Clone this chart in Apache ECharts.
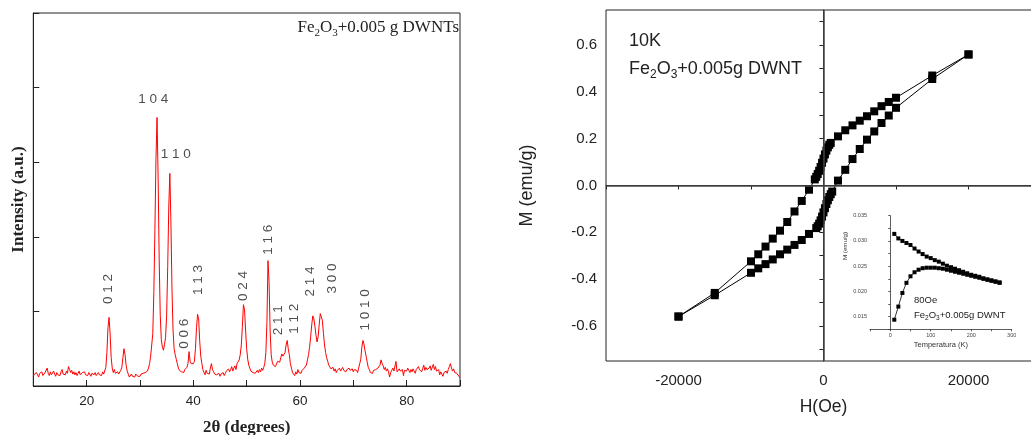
<!DOCTYPE html>
<html><head><meta charset="utf-8">
<script src="https://cdn.jsdelivr.net/npm/echarts@6/dist/echarts.min.js"></script>
<style>html,body{margin:0;padding:0;background:#fff}#c{width:1031px;height:435px}</style>
</head><body><div id="c"></div>
<script>
// ---------- XRD (left panel) ----------
const xrdStart = 10, xrdStep = 0.2;   // 2θ sampling grid of the measurement
const xrdIntensity = [
 0.13,0.16,0.14,0.18,0.15,0.12,0.17,0.16,0.19,0.14,
 0.15,0.18,0.16,0.24,0.17,0.14,0.19,0.15,0.17,0.20,
 0.16,0.13,0.18,0.15,0.17,0.14,0.19,0.22,0.16,0.18,
 0.15,0.20,0.17,0.26,0.22,0.18,0.21,0.16,0.19,0.15,
 0.18,0.14,0.17,0.20,0.15,0.13,0.18,0.16,0.19,0.15,
 0.17,0.14,0.18,0.16,0.13,0.17,0.19,0.15,0.18,0.14,
 0.16,0.18,0.15,0.17,0.14,0.19,0.16,0.18,0.25,0.45,
 0.78,0.92,0.70,0.38,0.24,0.18,0.22,0.17,0.15,0.19,
 0.16,0.18,0.21,0.25,0.38,0.50,0.42,0.28,0.20,0.16,
 0.12,0.14,0.16,0.13,0.15,0.12,0.16,0.14,0.13,0.15,
 0.13,0.16,0.14,0.17,0.15,0.18,0.16,0.20,0.24,0.30,
 0.40,0.55,0.70,1.25,2.10,3.05,3.60,2.80,1.70,0.95,
 0.62,0.52,0.48,0.56,0.65,0.95,1.60,2.40,2.85,2.20,
 1.30,0.75,0.50,0.42,0.36,0.30,0.24,0.21,0.23,0.19,
 0.21,0.18,0.22,0.20,0.25,0.30,0.46,0.33,0.30,0.28,
 0.30,0.33,0.50,0.78,0.96,0.90,0.60,0.40,0.30,0.22,
 0.18,0.15,0.21,0.17,0.19,0.16,0.24,0.30,0.22,0.19,
 0.16,0.18,0.15,0.14,0.17,0.13,0.16,0.15,0.18,0.14,
 0.17,0.20,0.18,0.23,0.19,0.22,0.26,0.20,0.24,0.27,
 0.22,0.30,0.28,0.35,0.42,0.55,0.80,1.09,1.02,0.75,
 0.50,0.36,0.28,0.24,0.20,0.22,0.18,0.20,0.17,0.19,
 0.21,0.18,0.22,0.19,0.24,0.21,0.25,0.30,0.45,0.85,
 1.68,1.40,0.75,0.42,0.32,0.28,0.27,0.26,0.28,0.33,
 0.35,0.32,0.38,0.43,0.40,0.38,0.45,0.55,0.61,0.50,
 0.42,0.30,0.24,0.18,0.20,0.14,0.19,0.16,0.22,0.18,
 0.20,0.17,0.21,0.19,0.24,0.22,0.28,0.35,0.42,0.52,
 0.66,0.82,0.94,0.90,0.80,0.68,0.59,0.66,0.82,0.97,
 0.99,0.88,0.70,0.55,0.45,0.38,0.33,0.28,0.26,0.23,
 0.22,0.25,0.20,0.23,0.18,0.21,0.19,0.24,0.20,0.22,
 0.25,0.21,0.23,0.19,0.22,0.20,0.24,0.21,0.20,0.23,
 0.19,0.22,0.20,0.21,0.18,0.24,0.30,0.36,0.52,0.61,
 0.56,0.47,0.40,0.32,0.25,0.22,0.18,0.20,0.17,0.21,
 0.19,0.22,0.20,0.24,0.22,0.28,0.35,0.30,0.27,0.22,
 0.25,0.20,0.23,0.19,0.12,0.18,0.21,0.24,0.20,0.22,
 0.33,0.19,0.17,0.23,0.20,0.18,0.22,0.14,0.21,0.23,
 0.20,0.24,0.21,0.18,0.22,0.19,0.23,0.20,0.17,0.22,
 0.20,0.26,0.22,0.24,0.19,0.23,0.28,0.21,0.25,0.22,
 0.20,0.24,0.27,0.21,0.25,0.29,0.22,0.26,0.20,0.18,
 0.22,0.15,0.19,0.21,0.13,0.18,0.16,0.20,0.17,0.22,
 0.26,0.30,0.24,0.20,0.23,0.18,0.20,0.17,0.15,0.13,
 0.11
];
const xrdLabelTicks = [20, 40, 60, 80];
const peakNames    = ['1 0 4','1 1 0','0 1 2','0 0 6','1 1 3','0 2 4','1 1 6','2 1 1','1 1 2','2 1 4','3 0 0','1 0 1 0'];
const peakLabelX   = [32.5, 36.7, 24.06, 38.3, 40.9, 49.4, 54.1, 55.9, 58.9, 61.9, 66.0, 72.3];
const peakLabelY   = [3.84, 3.11, 1.30, 0.70, 1.42, 1.34, 1.96, 0.88, 0.90, 1.40, 1.44, 1.02];
const peakVertical = [false,false,true,true,true,true,true,true,true,true,true,true];

// ---------- Hysteresis 10 K (right panel) ----------
const descH = [20000,15000,10000,9000,8000,7000,6000,5000,4000,3000,2000,1000,800,600,400,200,0,-200,-400,-600,-800,-1000,-1200,-2000,-3000,-4000,-5000,-6000,-7000,-8000,-9000,-10000,-15000,-20000];
const descM = [0.56,0.47,0.375,0.357,0.339,0.317,0.296,0.277,0.257,0.236,0.21,0.182,0.174,0.163,0.149,0.133,0.115,0.097,0.079,0.063,0.049,0.037,0.026,-0.018,-0.066,-0.111,-0.156,-0.193,-0.227,-0.261,-0.294,-0.324,-0.459,-0.56];
const ascH = [-20000,-15000,-10000,-9000,-8000,-7000,-6000,-5000,-4000,-3000,-2000,-1000,-800,-600,-400,-200,0,200,400,600,800,1000,1200,2000,3000,4000,5000,6000,7000,8000,9000,10000,15000,20000];
const ascM = [-0.56,-0.469,-0.373,-0.354,-0.336,-0.316,-0.294,-0.274,-0.254,-0.233,-0.207,-0.182,-0.174,-0.163,-0.149,-0.133,-0.115,-0.097,-0.079,-0.063,-0.049,-0.037,-0.026,0.021,0.067,0.113,0.156,0.196,0.231,0.267,0.299,0.332,0.455,0.56];
const hystTickValues  = [-0.7,-0.6,-0.5,-0.4,-0.3,-0.2,-0.1,0,0.1,0.2,0.3,0.4,0.5,0.6,0.7];
const hystLabelValues = [-0.6,-0.4,-0.2,0,0.2,0.4,0.6];

// ---------- Inset: ZFC / FC at 80 Oe ----------
const tempK = [10,20,30,40,50,60,70,80,90,100,110,120,130,140,150,160,170,180,190,200,210,220,230,240,250,260,270];
const mFC  = [0.0314,0.0305,0.0300,0.0296,0.0292,0.0285,0.0279,0.0274,0.0269,0.0266,0.0262,0.0259,0.0255,0.0251,0.0248,0.0245,0.0242,0.0239,0.0236,0.0233,0.0231,0.0229,0.0226,0.0224,0.0222,0.0220,0.0218];
const mZFC = [0.0144,0.0170,0.0197,0.0217,0.0230,0.0238,0.0243,0.0246,0.0247,0.0247,0.0247,0.0246,0.0245,0.0243,0.0241,0.0239,0.0237,0.0235,0.0233,0.0231,0.0229,0.0227,0.0225,0.0223,0.0221,0.0219,0.0217];

const SANS = 'Liberation Sans, Arial, sans-serif';
const SERIF = 'Liberation Serif, Times New Roman, serif';
const INK = '#222';

const xrdData = xrdIntensity.map((v, i) => [xrdStart + i * xrdStep, v]);
const peakData = peakNames.map((n, i) => ({
  name: n, value: [peakLabelX[i], peakLabelY[i]],
  label: { rotate: peakVertical[i] ? 90 : 0 }
}));
const pair = (xs, ys) => xs.map((x, i) => [x, ys[i]]);

// rich text formula with lowered subscripts
function formula(size, sub, family, color, tail) {
  return {
    text: '{a|Fe}{b|2}{a|O}{b|3}{a|' + tail + '}',
    rich: {
      a: { fontSize: size, fontFamily: family, fill: color, height: size, lineHeight: size * 1.4, verticalAlign: 'bottom' },
      b: { fontSize: sub, fontFamily: family, fill: color, height: size * 0.36, lineHeight: size * 0.36, verticalAlign: 'bottom' }
    }
  };
}

const chart = echarts.init(document.getElementById('c'), null, { renderer: 'canvas' });
chart.setOption({
  animation: false,
  backgroundColor: '#fff',
  grid: [
    { left: 33.3, top: 13, width: 426.7, height: 373, show: true, borderColor: INK, borderWidth: 1, outerBoundsMode: 'none', containLabel: false },
    { left: 606, top: 10, width: 435, height: 351, show: true, borderColor: INK, borderWidth: 1, outerBoundsMode: 'none', containLabel: false },
    { left: 870, top: 215.7, width: 141.7, height: 113.6, outerBoundsMode: 'none', containLabel: false }
  ],
  xAxis: [
    { gridIndex: 0, type: 'value', min: 10, max: 90, interval: 10,
      axisLine: { lineStyle: { color: INK } },
      axisTick: { inside: true, length: 6, lineStyle: { color: INK } },
      axisLabel: { fontFamily: SANS, fontSize: 13.5, color: INK, margin: 8,
        formatter: v => xrdLabelTicks.includes(v) ? String(v) : '' },
      splitLine: { show: false },
      name: '2θ (degrees)', nameLocation: 'middle', nameGap: 33,
      nameTextStyle: { fontFamily: SERIF, fontWeight: 'bold', fontSize: 17, color: INK } },
    { gridIndex: 1, type: 'value', min: -30000, max: 30000, interval: 10000,
      axisLine: { lineStyle: { color: INK } },
      axisTick: { length: 4, lineStyle: { color: INK } },
      axisLabel: { fontFamily: SANS, fontSize: 15, color: INK, margin: 12,
        formatter: v => (v % 20000 === 0) ? String(v) : '' },
      splitLine: { show: false },
      name: 'H(Oe)', nameLocation: 'middle', nameGap: 37,
      nameTextStyle: { fontFamily: SANS, fontSize: 17.5, color: INK } },
    { gridIndex: 2, type: 'value', min: -50, max: 300, interval: 50,
      axisLine: { lineStyle: { color: '#333', width: 0.8 } },
      axisTick: { length: 2, lineStyle: { color: '#333', width: 0.8 } },
      axisLabel: { fontFamily: SANS, fontSize: 5.5, color: '#444', margin: 3, interval: 0,
        formatter: v => (v % 100 === 0) ? String(v) : '' },
      splitLine: { show: false },
      name: 'Temperatura (K)', nameLocation: 'middle', nameGap: 12,
      nameTextStyle: { fontFamily: SANS, fontSize: 7.5, color: '#333' } }
  ],
  yAxis: [
    { gridIndex: 0, type: 'value', min: 0, max: 5, interval: 1,
      axisLine: { lineStyle: { color: INK } },
      axisTick: { inside: true, length: 6, lineStyle: { color: INK } },
      axisLabel: { show: false },
      splitLine: { show: false },
      name: 'Intensity (a.u.)', nameLocation: 'middle', nameGap: 6,
      nameTextStyle: { fontFamily: SERIF, fontWeight: 'bold', fontSize: 17, color: INK } },
    { gridIndex: 1, type: 'value', min: -0.75, max: 0.75,
      axisLine: { lineStyle: { color: INK } },
      axisTick: { length: 4, customValues: hystTickValues, lineStyle: { color: INK } },
      axisLabel: { fontFamily: SANS, fontSize: 15, color: INK, margin: 9,
        customValues: hystLabelValues, formatter: v => v.toFixed(1) },
      splitLine: { show: false },
      name: 'M (emu/g)', nameLocation: 'middle', nameGap: 70,
      nameTextStyle: { fontFamily: SANS, fontSize: 18, color: INK } },
    { gridIndex: 2, type: 'value', min: 0.0125, max: 0.035, interval: 0.0025,
      axisLine: { lineStyle: { color: '#333', width: 0.8 } },
      axisTick: { length: 2, lineStyle: { color: '#333', width: 0.8 } },
      axisLabel: { fontFamily: SANS, fontSize: 5.5, color: '#444', margin: 3, interval: 0,
        formatter: v => Math.abs(v * 200 - Math.round(v * 200)) < 1e-6 ? v.toFixed(3) : '' },
      splitLine: { show: false } }
  ],
  series: [
    { type: 'line', xAxisIndex: 0, yAxisIndex: 0, data: xrdData, showSymbol: false,
      lineStyle: { color: '#ff0000', width: 1 }, silent: true },
    { type: 'scatter', xAxisIndex: 0, yAxisIndex: 0, data: peakData, symbolSize: 0,
      label: { show: true, position: 'inside', formatter: '{b}', fontFamily: SANS, fontSize: 13.5, color: INK },
      silent: true },
    { type: 'line', xAxisIndex: 1, yAxisIndex: 1, data: pair(descH, descM),
      symbol: 'rect', symbolSize: 8, itemStyle: { color: '#000' },
      lineStyle: { color: '#000', width: 1 }, z: 3,
      markLine: { silent: true, symbol: 'none', label: { show: false },
        lineStyle: { color: '#444', width: 1.5, type: 'solid' },
        data: [{ yAxis: 0 }, { xAxis: 0 }] } },
    { type: 'line', xAxisIndex: 1, yAxisIndex: 1, data: pair(ascH, ascM),
      symbol: 'rect', symbolSize: 8, itemStyle: { color: '#000' },
      lineStyle: { color: '#000', width: 1 }, z: 3 },
    { type: 'line', xAxisIndex: 2, yAxisIndex: 2, data: pair(tempK, mFC),
      symbol: 'rect', symbolSize: 4, itemStyle: { color: '#000' },
      lineStyle: { color: '#000', width: 0.8 } },
    { type: 'line', xAxisIndex: 2, yAxisIndex: 2, data: pair(tempK, mZFC),
      symbol: 'rect', symbolSize: 4, itemStyle: { color: '#000' },
      lineStyle: { color: '#000', width: 0.8 } }
  ],
  graphic: [
    { type: 'text', x: 459, y: 24, style: Object.assign(formula(17, 11, SERIF, INK, '+0.005 g DWNTs'), { align: 'right', verticalAlign: 'middle' }) },
    { type: 'text', x: 629, y: 41, style: { text: '10K', fontFamily: SANS, fontSize: 18, fill: INK, align: 'left', verticalAlign: 'middle' } },
    { type: 'text', x: 629, y: 65, style: Object.assign(formula(18, 12, SANS, INK, '+0.005g DWNT'), { align: 'left', verticalAlign: 'middle' }) },
    { type: 'text', x: 914, y: 300, style: { text: '80Oe', fontFamily: SANS, fontSize: 9.5, fill: '#222', align: 'left', verticalAlign: 'middle' } },
    { type: 'text', x: 914, y: 313, style: Object.assign(formula(9.5, 6.5, SANS, '#222', '+0.005g DWNT'), { align: 'left', verticalAlign: 'middle' }) },
    { type: 'text', x: 845, y: 246, rotation: Math.PI / 2, style: { text: 'M (emu/g)', fontFamily: SANS, fontSize: 6.2, fill: '#333', align: 'center', verticalAlign: 'middle' } }
  ]
});
</script>
</body></html>
